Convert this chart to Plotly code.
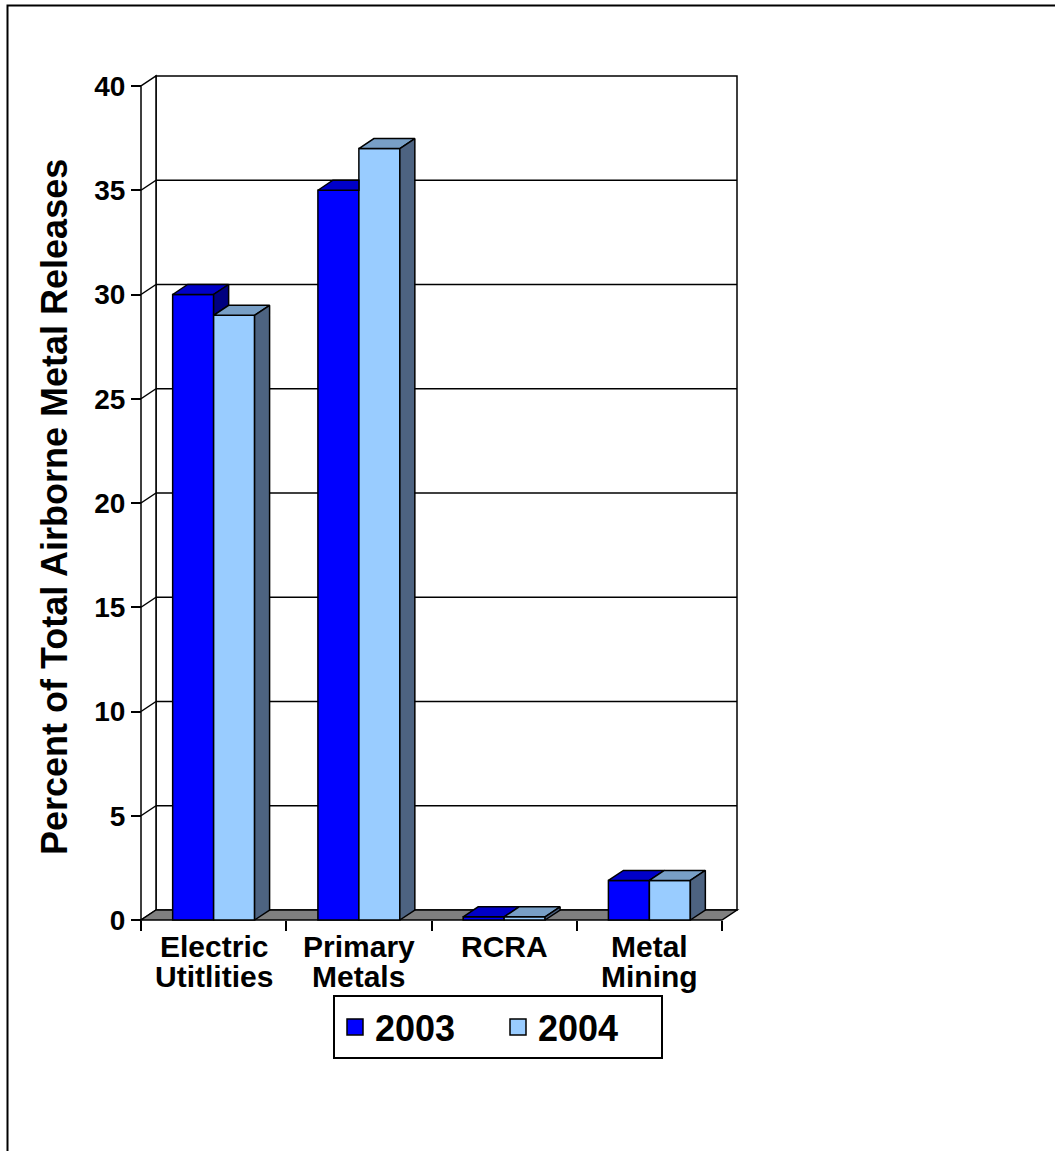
import plotly.graph_objects as go

# ---- data ----
category_lines = [["Electric", "Utitlities"], ["Primary", "Metals"], ["RCRA"], ["Metal", "Mining"]]
series_names = ["2003", "2004"]
values_2003 = [30, 35, 0.15, 1.9]
values_2004 = [29, 37, 0.15, 1.9]
y_ticks = [0, 5, 10, 15, 20, 25, 30, 35, 40]

# ---- styling ----
FONT = "Arial, 'Liberation Sans', sans-serif"
front_colors = ["#0000FF", "#99CCFF"]
top_colors = ["#0000C8", "#789FC6"]
side_colors = ["#000080", "#4D6381"]
floor_color = "#808080"
LW = 1.5

# pixel layout of the pseudo-3D box
W, H = 1055, 1151
X_FRONT, Y_FRONT = 141, 920      # front-left corner of the floor (x=-0.5, y=0)
SX = 145.25                      # px per category
SY = 20.85                       # px per percent
DEPTH_X, DEPTH_Y = 15, 10        # depth offset in px
PAD = 8

d = DEPTH_X / SX                 # depth offset in x units
e = DEPTH_Y / SY                 # depth offset in y units
y_max = max(y_ticks)
n = len(category_lines)

ml = X_FRONT - PAD
mr = W - (X_FRONT + n * SX + DEPTH_X + PAD)
mt = Y_FRONT - y_max * SY - DEPTH_Y - PAD
mb = H - (Y_FRONT + PAD)
plot_w = W - ml - mr
plot_h = H - mt - mb

x_lo, x_hi = -0.5 - PAD / SX, n - 0.5 + d + PAD / SX
y_lo, y_hi = -PAD / SY, y_max + e + PAD / SY

bar_w = 0.282
offsets = [-bar_w, 0.0]
all_values = [values_2003, values_2004]


def px_to_paper_x(px):
    return (px - ml) / plot_w


def px_to_paper_y(py):
    return (H - mb - py) / plot_h


fig = go.Figure()

# front faces
for s, (name, vals) in enumerate(zip(series_names, all_values)):
    fig.add_trace(go.Bar(
        x=list(range(n)), y=vals, name=name,
        width=bar_w, offset=offsets[s],
        marker=dict(color=front_colors[s], line=dict(color="black", width=LW)),
        hoverinfo="skip", showlegend=False,
    ))


def face(xs, ys, color):
    fig.add_trace(go.Scatter(
        x=xs + [xs[0]], y=ys + [ys[0]], mode="lines", fill="toself",
        fillcolor=color, line=dict(color="black", width=LW),
        hoverinfo="skip", showlegend=False,
    ))


# top and side faces
for i in range(n):
    v1, v2 = values_2003[i], values_2004[i]
    # 2003 bar (left)
    x0, x1 = i + offsets[0], i + offsets[0] + bar_w
    if v2 > v1:
        face([x0, x1, x1, x0 + d], [v1, v1, v1 + e, v1 + e], top_colors[0])
    else:
        face([x0, x1, x1 + d, x0 + d], [v1, v1, v1 + e, v1 + e], top_colors[0])
        if v1 > v2:
            face([x1, x1, x1 + d, x1 + d], [v2, v1, v1 + e, v2 + e], side_colors[0])
    # 2004 bar (right)
    x0, x1 = i + offsets[1], i + offsets[1] + bar_w
    face([x0, x1, x1 + d, x0 + d], [v2, v2, v2 + e, v2 + e], top_colors[1])
    face([x1, x1, x1 + d, x1 + d], [0, v2, v2 + e, e], side_colors[1])

# legend entries (square swatches)
for s, name in enumerate(series_names):
    fig.add_trace(go.Scatter(
        x=[None], y=[None], mode="markers", name=name,
        marker=dict(symbol="square", size=16, color=front_colors[s],
                    line=dict(color="black", width=1.5)),
    ))

# walls, floor and gridlines
shapes = []
bx0, bx1 = -0.5 + d, n - 0.5 + d
shapes.append(dict(type="rect", xref="x", yref="y", x0=bx0, x1=bx1, y0=e, y1=y_max + e,
                   fillcolor="white", line=dict(color="black", width=LW), layer="below"))
shapes.append(dict(type="path", xref="x", yref="y",
                   path=f"M{-0.5},0 L{-0.5},{y_max} L{bx0},{y_max + e} L{bx0},{e} Z",
                   fillcolor="white", line=dict(color="black", width=LW), layer="below"))
for t in y_ticks[1:-1]:
    shapes.append(dict(type="line", xref="x", yref="y", x0=bx0, x1=bx1, y0=t + e, y1=t + e,
                       line=dict(color="black", width=LW), layer="below"))
    shapes.append(dict(type="line", xref="x", yref="y", x0=-0.5, x1=bx0, y0=t, y1=t + e,
                       line=dict(color="black", width=LW), layer="below"))
shapes.append(dict(type="path", xref="x", yref="y",
                   path=f"M{-0.5},0 L{n - 0.5},0 L{bx1},{e} L{bx0},{e} Z",
                   fillcolor=floor_color, line=dict(color="black", width=LW), layer="below"))

# outer chart frame
shapes.append(dict(type="rect", xref="paper", yref="paper",
                   x0=px_to_paper_x(7.5), x1=px_to_paper_x(W + 50),
                   y0=px_to_paper_y(H + 50), y1=px_to_paper_y(5.5),
                   line=dict(color="black", width=2), fillcolor="rgba(0,0,0,0)", layer="above"))

# category labels, one annotation per text line
annotations = []
LINE_Y = [947, 976]
for i, lines in enumerate(category_lines):
    for k, line in enumerate(lines):
        annotations.append(dict(
            text=line, xref="x", yref="paper", x=i, y=px_to_paper_y(LINE_Y[k]),
            xanchor="center", yanchor="middle", showarrow=False,
            font=dict(family=FONT, size=30, color="black", weight="bold"),
        ))

annotations.append(dict(
    text="Percent of Total Airborne Metal Releases", textangle=-90,
    xref="paper", yref="paper", x=px_to_paper_x(54), y=px_to_paper_y(507),
    xanchor="center", yanchor="middle", showarrow=False,
    font=dict(family=FONT, size=36, color="black", weight="bold"),
))

fig.update_layout(
    width=W, height=H,
    margin=dict(l=ml, r=mr, t=mt, b=mb, autoexpand=False),
    paper_bgcolor="white", plot_bgcolor="white",
    template="none",
    barmode="overlay",
    shapes=shapes,
    annotations=annotations,
    showlegend=True,
    legend=dict(
        orientation="h", x=px_to_paper_x(498), xanchor="center",
        y=px_to_paper_y(995), yanchor="top",
        entrywidth=118, entrywidthmode="pixels",
        font=dict(family=FONT, size=36, color="black", weight="bold"),
        bordercolor="black", borderwidth=2, bgcolor="white",
        itemclick=False, itemdoubleclick=False,
    ),
)

fig.update_xaxes(
    range=[x_lo, x_hi], anchor="free", position=PAD / plot_h,
    tickmode="array", tickvals=[i - 0.5 for i in range(n + 1)], showticklabels=False,
    ticks="outside", ticklen=10, tickwidth=LW, tickcolor="black",
    showgrid=False, zeroline=False, showline=False, automargin=False, fixedrange=True,
)
fig.update_yaxes(
    range=[y_lo, y_hi], anchor="free", position=PAD / plot_w,
    tickmode="array", tickvals=y_ticks,
    ticks="outside", ticklen=10, tickwidth=LW, tickcolor="black",
    tickfont=dict(family=FONT, size=28, color="black", weight="bold"),
    showgrid=False, zeroline=False, showline=False, automargin=False, fixedrange=True,
)

fig.write_html("out.html")
